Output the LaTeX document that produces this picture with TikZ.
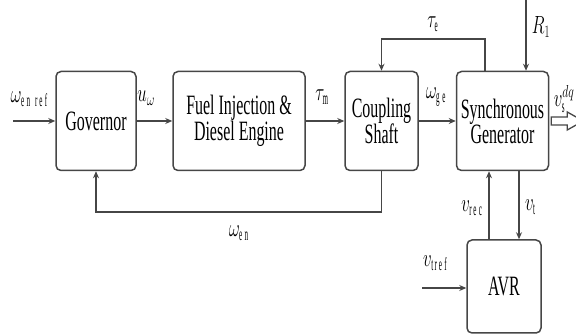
\documentclass[tikz,border=0pt]{standalone}
\usepackage{graphicx}
\usepackage{fontspec}
\setmainfont{Liberation Serif}[FakeStretch=0.57]
\usepackage{tikz}
\usetikzlibrary{arrows.meta,positioning,calc}
\definecolor{wiregray}{RGB}{70,70,70}
\newcommand{\narrow}[1]{\scalebox{0.68}[1]{$#1$}}
\tikzset{
  blk/.style={draw=wiregray,line width=1.5pt,rounded corners=5pt,align=center,
              font=\fontsize{28}{25}\selectfont,minimum height=99pt,inner sep=1pt},
  arr/.style={-{Stealth[length=7pt,width=6pt]},line width=1.5pt,draw=wiregray},
  lbl/.style={font=\fontsize{26}{26}\selectfont,inner sep=0pt},
  hollow/.style={draw=wiregray,line width=1.3pt,fill=white},
}

\begin{document}
\begin{tikzpicture}[x=1pt,y=-1pt]
  \useasboundingbox (0,0) rectangle (576,336);
  % blocks
  \node[blk,minimum width=80pt]  (gov)   at (96,121)    {Governor};
  \node[blk,minimum width=132pt] (fuel)  at (239,121)   {Fuel Injection \&\\Diesel Engine};
  \node[blk,minimum width=73pt]  (shaft) at (381.5,121) {Coupling\\Shaft};
  \node[blk,minimum width=92pt]  (gen)   at (502.5,121) {Synchronous\\Generator};
  \node[blk,minimum width=74pt,minimum height=93pt] (avr) at (504,286.5) {AVR};
  % helper points
  \coordinate (wen)  at (13,121);
  \coordinate (teup) at (485,39);
  \coordinate (fb)   at (240,212);
  \coordinate (rin)  at (526,0);
  \coordinate (vr)   at (489,0);
  \coordinate (vt)   at (519,0);
  \coordinate (vtin) at (422,288);
  % forward path
  \draw[arr] (wen) -- (gov);
  \draw[arr] (gov) -- (fuel);
  \draw[arr] (fuel) -- (shaft);
  \draw[arr] (shaft) -- (gen);
  % output (hollow arrow)
  \draw[hollow] ([xshift=2pt]gen.east) ++(0,-4) -- ++(16,0) -- ++(0,-5)
    -- ++(16,9) -- ++(-16,9) -- ++(0,-5) -- ++(-16,0) -- cycle;
  % loops
  \draw[arr] (teup |- gen.north) -- (teup) -| (shaft.north);
  \draw[arr] (shaft.south) |- (fb) -| (gov.south);
  \draw[arr] (rin) -- (rin |- gen.north);
  \draw[arr] (vr |- avr.north) -- (vr |- gen.south);
  \draw[arr] (vt |- gen.south) -- (vt |- avr.north);
  \draw[arr] (vtin) -- (vtin -| avr.west);
  % signal labels
  \node[lbl] (lwref) at (30,99)   {\narrow{\omega_{\mathrm{en\ ref}}}};
  \node[lbl] (luw)   at (146,98)  {\narrow{u_{\omega}}};
  \node[lbl] (ltm)   at (324,97)  {\narrow{\tau_{\mathrm{m}}}};
  \node[lbl] (lwge)  at (437,97)  {\narrow{\omega_{\mathrm{ge}}}};
  \node[lbl] (lte)   at (434,24)  {\narrow{\tau_{\mathrm{e}}}};
  \node[lbl] (lr1)   at (541,27)  {\narrow{R_1}};
  \node[lbl] (lvs)   at (564,99)  {\narrow{v_{\mathrm{s}}^{dq}}};
  \node[lbl] (lwen)  at (240,233) {\narrow{\omega_{\mathrm{en}}}};
  \node[lbl] (lvrec) at (473,208) {\narrow{v_{\mathrm{rec}}}};
  \node[lbl] (lvt)   at (531,207) {\narrow{v_{\mathrm{t}}}};
  \node[lbl] (lvtr)  at (436,263) {\narrow{v_{\mathrm{tref}}}};
\end{tikzpicture}
\end{document}
